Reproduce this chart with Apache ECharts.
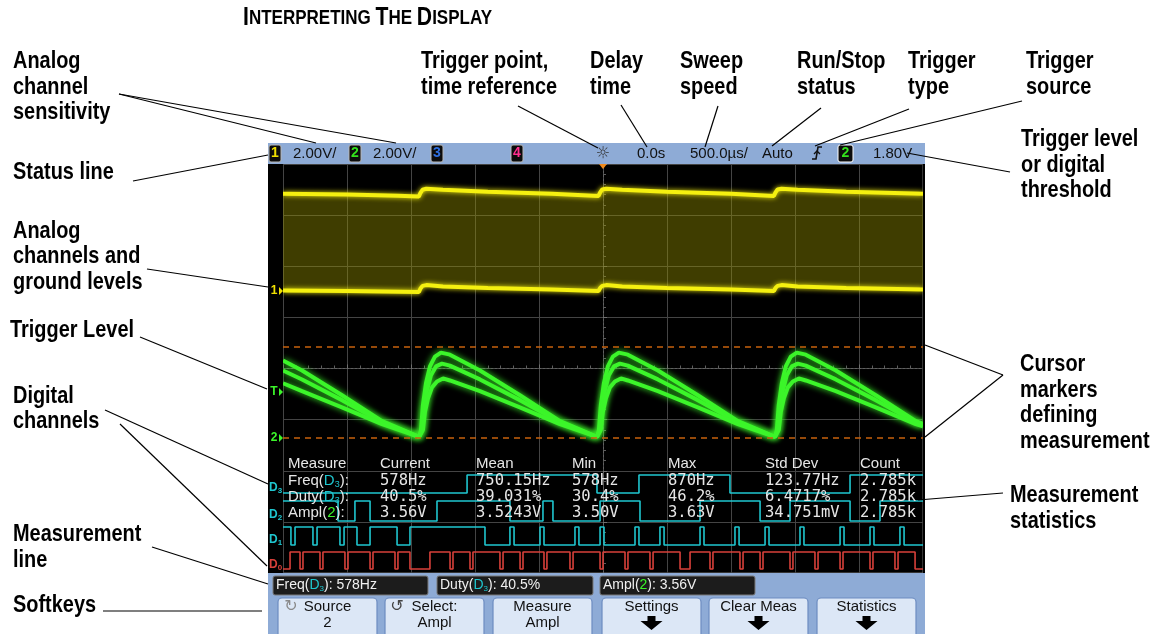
<!DOCTYPE html>
<html><head><meta charset="utf-8">
<script src="https://cdn.jsdelivr.net/npm/echarts/dist/echarts.min.js"></script>
<style>html,body{margin:0;padding:0;background:#fff}#c{width:1158px;height:634px}</style>
</head><body><div id="c"></div>
<script>
// ---------------- DATA (time in µs relative to trigger, volts) ----------------
const VOLTS_PER_DIV = 2;          // 2.00V/div on both analog channels
const ch1Ground = 1.516;          // ch1 ground offset (divisions from centre)
const ch2Ground = -1.359;         // ch2 ground offset (divisions from centre)
const triggerLevel = 1.80;        // V on channel 2
const cursorLevels = [0.0, 3.56]; // ch2 base / top cursor markers (V)

// Channel 1: envelope of the fast signal (upper and lower edges)
const ch1High = [[-2500,3.80],[-2000,3.77],[-1600,3.73],[-1438,3.70],[-1426,3.84],[-1410,3.96],[-1380,4.00],[-1250,3.96],[-900,3.88],[-400,3.80],[-35,3.72],[-22,3.86],[-6,3.97],[25,4.00],[150,3.96],[500,3.88],[1000,3.80],[1335,3.72],[1348,3.86],[1364,3.97],[1395,4.00],[1520,3.96],[1900,3.88],[2500,3.80]];
const ch1Low = [[-2500,0.02],[-2000,0.00],[-1438,-0.04],[-1426,0.10],[-1410,0.20],[-1380,0.23],[-1250,0.18],[-900,0.12],[-400,0.06],[-35,0.00],[-22,0.12],[-6,0.20],[25,0.23],[150,0.18],[500,0.12],[1000,0.06],[1335,0.00],[1348,0.12],[1364,0.20],[1395,0.23],[1520,0.18],[1900,0.12],[2500,0.06]];

// Channel 2: three overlaid sawtooth acquisitions
const ch2TraceA = [[-2500,3.03],[-2351,2.64],[-2039,1.67],[-1726,0.66],[-1437,0.04],[-1422,0.31],[-1407,1.28],[-1383,2.14],[-1352,2.80],[-1313,3.18],[-1266,3.34],[-1196,3.26],[-961,2.64],[-649,1.67],[-336,0.66],[-47,0.04],[-32,0.31],[-17,1.28],[7,2.14],[38,2.80],[77,3.18],[124,3.34],[194,3.26],[429,2.64],[741,1.67],[1054,0.66],[1343,0.04],[1358,0.31],[1373,1.28],[1397,2.14],[1428,2.80],[1467,3.18],[1514,3.34],[1584,3.26],[1819,2.64],[2131,1.67],[2444,0.66],[2500,0.55]];
const ch2TraceB = [[-2500,2.64],[-2351,2.29],[-2039,1.48],[-1726,0.62],[-1437,0.04],[-1414,0.31],[-1399,1.09],[-1375,1.86],[-1344,2.45],[-1305,2.80],[-1258,2.91],[-1196,2.83],[-961,2.29],[-649,1.48],[-336,0.62],[-47,0.04],[-24,0.31],[-9,1.09],[15,1.86],[46,2.45],[85,2.80],[132,2.91],[194,2.83],[429,2.29],[741,1.48],[1054,0.62],[1343,0.04],[1366,0.31],[1381,1.09],[1405,1.86],[1436,2.45],[1475,2.80],[1522,2.91],[1584,2.83],[1819,2.29],[2131,1.48],[2444,0.62],[2500,0.52]];
const ch2TraceC = [[-2500,2.14],[-2351,1.83],[-2039,1.20],[-1726,0.54],[-1437,0.04],[-1407,0.31],[-1391,1.01],[-1367,1.55],[-1336,1.98],[-1297,2.21],[-1250,2.33],[-1196,2.25],[-961,1.83],[-649,1.20],[-336,0.54],[-47,0.04],[-17,0.31],[-1,1.01],[23,1.55],[54,1.98],[93,2.21],[140,2.33],[194,2.25],[429,1.83],[741,1.20],[1054,0.54],[1343,0.04],[1373,0.31],[1389,1.01],[1413,1.55],[1444,1.98],[1483,2.21],[1530,2.33],[1584,2.25],[1819,1.83],[2131,1.20],[2444,0.54],[2500,0.46]];

// Digital channels: initial level and transition times (µs)
const d3Start = 0, d3Edges = [-1062,-47,281,992,1930];
const d2Start = 1, d2Edges = [-2070,-1938,-1820,-1297,-727,-469,-391,-23,289,758,1227,1461,1930,2164];
const d1Start = 1, d1Edges = [-2438,-2406,-2266,-2234,-2055,-2023,-1922,-1820,-1609,-1508,-922,-727,-695,-492,-461,-219,-188,-23,8,250,281,445,477,758,789,1031,1063,1266,1297,1539,1570,1852,1883,2086,2117,2320,2352];
const d0Start = 0, d0Edges = [-2445,-2367,-2344,-2211,-2188,-2016,-1992,-1820,-1797,-1625,-1602,-1508,-1352,-1195,-1172,-1039,-1016,-805,-781,-648,-625,-461,-438,-258,-234,-23,0,172,195,367,391,602,680,836,859,1070,1094,1227,1250,1461,1484,1656,1680,1852,1875,2086,2109,2281,2305,2438];
// display rows of the digital channels (divisions): [low, high]
const d3Row = [-2.435,-2.083], d2Row = [-2.983,-2.592], d1Row = [-3.452,-3.100], d0Row = [-3.922,-3.589];

// Status line
const statusScale = ['2.00V/','2.00V/'];
const delayText = '0.0s', sweepText = '500.0µs/', runText = 'Auto', trigLevelText = '1.80V';

// Measurement statistics table
const measHeaders = ['Measure','Current','Mean','Min','Max','Std Dev','Count'];
const measNames = ['Freq','Duty','Ampl'];
const measSources = ['D3','D3','2'];
const measCurrent = ['578Hz','40.5%','3.56V'];
const measMean = ['750.15Hz','39.031%','3.5243V'];
const measMin = ['578Hz','30.4%','3.50V'];
const measMax = ['870Hz','46.2%','3.63V'];
const measStd = ['123.77Hz','6.4717%','34.751mV'];
const measCount = ['2.785k','2.785k','2.785k'];

// Softkeys
const softkeys = ['Source\n2','Select:\nAmpl','Measure\nAmpl','Settings','Clear Meas','Statistics'];

// Callout labels
const callouts = [
 {x:13, y:49, t:'Analog\nchannel\nsensitivity'},
 {x:13, y:159.5, t:'Status line'},
 {x:13, y:218.5, t:'Analog\nchannels and\nground levels'},
 {x:10, y:317.5, t:'Trigger Level'},
 {x:13, y:383.5, t:'Digital\nchannels'},
 {x:13, y:522, t:'Measurement\nline'},
 {x:13, y:592.5, t:'Softkeys'},
 {x:421, y:49, t:'Trigger point,\ntime reference'},
 {x:590, y:49, t:'Delay\ntime'},
 {x:680, y:49, t:'Sweep\nspeed'},
 {x:797, y:49, t:'Run/Stop\nstatus'},
 {x:908, y:49, t:'Trigger\ntype'},
 {x:1026, y:49, t:'Trigger\nsource'},
 {x:1021, y:127, t:'Trigger level\nor digital\nthreshold'},
 {x:1020, y:352, t:'Cursor\nmarkers\ndefining\nmeasurement'},
 {x:1010, y:483, t:'Measurement\nstatistics'}
];
const leaderLines = [
 [119,94,316,143],[119,94,396,143],[133,181,268,155],[147,269,268,287],[140,337,267,389],
 [105,410,268,484],[120,424,267,566],[152,547,268,584],[103,611,262,611],
 [518,106,598,148],[621,105,647,147],[718,106,705,147],[821,108,772,146],[909,109,815,146],[1022,101,840,145],
 [907,153,1010,172],[1003,375,925,345],[1003,375,925,437],[1003,493,918,500]
];

// ---------------- BUILD ----------------
const FONT = "'Liberation Sans',sans-serif";
const NARROW = 0.83;  // horizontal squeeze to mimic a condensed bold face
const SCOPE_FONT = "'Liberation Sans',sans-serif";
const MONO = "'DejaVu Sans Mono',monospace";
const GRID = {left:283, top:164, width:640, height:409};

const toDiv = (arr, off) => arr.map(p => [p[0], p[1] / VOLTS_PER_DIV + off]);
function digital(start, edges, row){
  let lvl = start; const out = [[-2500, row[lvl]]];
  edges.forEach(t => { out.push([t, row[lvl]]); lvl = 1 - lvl; out.push([t, row[lvl]]); });
  out.push([2500, row[lvl]]);
  return out;
}
const lineSeries = (data, color, width, glow, extra) => Object.assign({
  type:'line', data, showSymbol:false, symbol:'none', silent:true, animation:false,
  lineStyle:{color, width, shadowBlur:glow, shadowColor:color}
}, extra || {});

const chart = echarts.init(document.getElementById('c'));
const GREEN = '#3cf52a', YELLOW = '#f5f010', CYAN = '#1fc6cf', RED = '#d8403a';

chart.setOption({
  backgroundColor:'#ffffff',
  animation:false,
  grid:{left:GRID.left, top:GRID.top, width:GRID.width, height:GRID.height, show:true, backgroundColor:'#000', borderColor:'#6a6a6a', borderWidth:1},
  xAxis:{type:'value', min:-2500, max:2500, interval:500,
    axisLabel:{show:false},
    axisLine:{show:true, onZero:true, lineStyle:{color:'#606060', type:[2,2]}},
    axisTick:{show:true, inside:true, length:4, lineStyle:{color:'#707070'}},
    minorTick:{show:true, splitNumber:5, length:3, lineStyle:{color:'#5e5e5e'}},
    splitLine:{show:true, lineStyle:{color:'#444444', width:1}}},
  yAxis:{type:'value', min:-4, max:4, interval:1,
    axisLabel:{show:false},
    axisLine:{show:true, onZero:true, lineStyle:{color:'#606060', type:[2,2]}},
    axisTick:{show:true, inside:true, length:4, lineStyle:{color:'#707070'}},
    minorTick:{show:true, splitNumber:5, length:3, lineStyle:{color:'#5e5e5e'}},
    splitLine:{show:true, lineStyle:{color:'#444444', width:1}}},
  series:[
    {type:'custom', data:[[0,0]], silent:true, animation:false, clip:true, z:1,
     renderItem:(params, api) => {
       const pts = [];
       ch1High.forEach(p => pts.push(api.coord([p[0], p[1]/VOLTS_PER_DIV + ch1Ground])));
       for (let i = ch1Low.length - 1; i >= 0; i--) pts.push(api.coord([ch1Low[i][0], ch1Low[i][1]/VOLTS_PER_DIV + ch1Ground]));
       return {type:'polygon', shape:{points:pts}, style:{fill:'rgba(150,145,0,0.42)'}};
     }},
    lineSeries(toDiv(ch1High, ch1Ground), YELLOW, 4, 5),
    lineSeries(toDiv(ch1Low, ch1Ground), YELLOW, 4, 5),
    lineSeries(toDiv(ch2TraceA, ch2Ground), GREEN, 4, 6, {markLine:{silent:true, symbol:'none', label:{show:false}, animation:false,
      lineStyle:{color:'#c8620c', type:[6,5], width:1.5},
      data: cursorLevels.map(v => ({yAxis: v/VOLTS_PER_DIV + ch2Ground}))}}),
    lineSeries(toDiv(ch2TraceB, ch2Ground), GREEN, 4, 6),
    lineSeries(toDiv(ch2TraceC, ch2Ground), GREEN, 4, 6),
    lineSeries(digital(d3Start, d3Edges, d3Row), CYAN, 1.6, 0),
    lineSeries(digital(d2Start, d2Edges, d2Row), CYAN, 1.6, 0),
    lineSeries(digital(d1Start, d1Edges, d1Row), CYAN, 1.6, 0),
    lineSeries(digital(d0Start, d0Edges, d0Row), RED, 1.6, 0)
  ]
});

// ---------------- GRAPHIC OVERLAY ----------------
const g = [];
const txt = (x, y, text, o) => g.push(Object.assign({type:'text', x, y, z:100, silent:true,
  style:Object.assign({text, fill:'#000', fontFamily:SCOPE_FONT, fontSize:15, align:'left', verticalAlign:'middle'}, (o && o.style) || {})}, (o && o.el) || {}));
const rect = (x, y, w, h, fill, stroke, r, z, lw) => g.push({type:'rect', z: z || 50, silent:true, shape:{x, y, width:w, height:h, r: r || 0}, style:{fill, stroke: stroke || null, lineWidth: lw || 1}});

// title (small caps)
g.push({type:'text', x:243, y:18, z:100, silent:true, scaleX:NARROW, style:{text:'{b|I}{s|NTERPRETING }{b|T}{s|HE }{b|D}{s|ISPLAY}', verticalAlign:'middle', fill:'#000',
  rich:{b:{fontFamily:FONT, fontWeight:'bold', fontSize:25.5, fill:'#000'}, s:{fontFamily:FONT, fontWeight:'bold', fontSize:20.5, fill:'#000'}}}});

// callouts
callouts.forEach(c => g.push({type:'text', x:c.x, y:c.y, z:100, silent:true, scaleX:NARROW,
  style:{text:c.t, fontFamily:FONT, fontWeight:'bold', fontSize:24, lineHeight:25.5, fill:'#000', align:'left', verticalAlign:'top'}}));
leaderLines.forEach(l => g.push({type:'line', z:100, silent:true, shape:{x1:l[0], y1:l[1], x2:l[2], y2:l[3]}, style:{stroke:'#000', lineWidth:1.2}}));

// screen frame pieces
rect(268, 143, 657, 21, '#8eabd6');          // status bar
rect(268, 164, 15, 409, '#000');             // left marker column
rect(923, 164, 2, 409, '#000');
rect(268, 573, 657, 61, '#8eabd6');          // bottom panel

// status line boxes
const chBox = (x, w, digit, color, stroke) => {
  rect(x, 145, w, 17, '#0c0c0c', stroke || '#b8b8b8', 2, 60, 1);
  txt(x + w/2, 153.5, digit, {style:{fill:color, fontSize:14, fontWeight:'bold', align:'center'}});
};
chBox(269, 12, '1', '#f0e000');
txt(293, 153.5, statusScale[0], {style:{fill:'#111'}});
chBox(349, 12, '2', '#33e01c');
txt(373, 153.5, statusScale[1], {style:{fill:'#111'}});
chBox(431, 12, '3', '#2f6fe0');
chBox(511, 12, '4', '#ff2f8e');
txt(603, 153.5, '☼', {style:{fill:'#333', fontSize:16, align:'center', fontFamily:"'DejaVu Sans',sans-serif"}});
txt(637, 153.5, delayText, {style:{fill:'#111'}});
txt(690, 153.5, sweepText, {style:{fill:'#111'}});
txt(762, 153.5, runText, {style:{fill:'#111'}});
g.push({type:'polyline', z:100, silent:true, shape:{points:[[812,159],[816,159],[818,147],[822,147]]}, style:{stroke:'#111', lineWidth:1.6, fill:null}});
g.push({type:'polyline', z:100, silent:true, shape:{points:[[814,154],[817,151],[820,154]]}, style:{stroke:'#111', lineWidth:1.4, fill:null}});
chBox(838, 15, '2', '#33e01c', '#ffffff');
txt(873, 153.5, trigLevelText, {style:{fill:'#111'}});
// trigger position marker
g.push({type:'polygon', z:100, silent:true, shape:{points:[[599,164],[607,164],[603,169]]}, style:{fill:'#f08a1c'}});

// measurement statistics table
const colX = [288, 380, 476, 572, 668, 765, 860];
const rowY = [464, 481, 497, 513];
measHeaders.forEach((h, i) => txt(colX[i], rowY[0], h, {style:{fill:'#e6e6e6', fontSize:15}}));
const srcRich = {d:{fill:CYAN, fontSize:15, fontFamily:SCOPE_FONT}, sub:{fill:CYAN, fontSize:9, fontFamily:SCOPE_FONT, padding:[8,0,0,0]}, gr:{fill:'#3cf52a', fontSize:15, fontFamily:SCOPE_FONT}, w:{fill:'#e6e6e6', fontSize:15, fontFamily:SCOPE_FONT}};
const srcLabel = (name, src) => src.startsWith('D') ? `{w|${name}(}{d|D}{sub|${src.slice(1)}}{w|):}` : `{w|${name}(}{gr|${src}}{w|):}`;
const cols = [measCurrent, measMean, measMin, measMax, measStd, measCount];
measNames.forEach((n, r) => {
  g.push({type:'text', x:colX[0], y:rowY[r+1], z:100, silent:true, style:{text:srcLabel(n, measSources[r]), verticalAlign:'middle', rich:srcRich}});
  cols.forEach((c, ci) => txt(colX[ci+1], rowY[r+1], c[r], {style:{fill:'#e6e6e6', fontSize:15.5, fontFamily:MONO}}));
});

// measurement line boxes
const mBoxes = [[273,155],[437,156],[600,155]];
const mVals = [measCurrent[0], measCurrent[1], measCurrent[2]];
mBoxes.forEach((b, i) => {
  rect(b[0], 576, b[1], 19, '#1c1c1c', '#7a7a7a', 2, 60, 1);
  const rich = {d:{fill:CYAN, fontSize:14, fontFamily:SCOPE_FONT}, sub:{fill:CYAN, fontSize:8, fontFamily:SCOPE_FONT, padding:[7,0,0,0]}, gr:{fill:'#3cf52a', fontSize:14, fontFamily:SCOPE_FONT}, w:{fill:'#f0f0f0', fontSize:14, fontFamily:SCOPE_FONT}};
  const lab = srcLabel(measNames[i], measSources[i]) + `{w| ${mVals[i]}}`;
  g.push({type:'text', x:b[0]+3, y:585.5, z:100, silent:true, style:{text:lab, verticalAlign:'middle', rich}});
});

// softkeys
const keyX = [278, 385, 493, 602, 709, 817];
softkeys.forEach((k, i) => {
  rect(keyX[i], 598, 99, 40, '#dce7f6', '#6d8cc0', 4, 60, 1.2);
  const cx = keyX[i] + 49.5;
  const lines = k.split('\n');
  txt(cx, 607, lines[0], {style:{fill:'#111', fontSize:15, align:'center'}});
  if (lines[1]) txt(cx, 623, lines[1], {style:{fill:'#111', fontSize:15, align:'center'}});
  else g.push({type:'polygon', z:100, silent:true, shape:{points:[[cx-4,616],[cx+4,616],[cx+4,621],[cx+11,621],[cx,630],[cx-11,621],[cx-4,621]]}, style:{fill:'#000'}});
});
txt(291, 607, '↻', {style:{fill:'#8a8a8a', fontSize:16, align:'center', fontFamily:"'DejaVu Sans',sans-serif"}});
txt(397, 607, '↺', {style:{fill:'#444', fontSize:16, align:'center', fontFamily:"'DejaVu Sans',sans-serif"}});

// channel markers in the left column, positioned through the chart's scales
const px = (t, d) => chart.convertToPixel({gridIndex:0}, [t, d]);
const marker = (yDiv, label, color) => {
  const p = px(-2500, yDiv);
  txt(274, p[1], label, {style:{fill:color, fontSize:12, fontWeight:'bold', align:'center'}});
  g.push({type:'polygon', z:100, silent:true, shape:{points:[[279,p[1]-4],[283,p[1]],[279,p[1]+4]]}, style:{fill:color}});
};
marker(ch1Ground, '1', '#f0e000');
marker(triggerLevel/VOLTS_PER_DIV + ch2Ground, 'T', '#3cf52a');
marker(ch2Ground, '2', '#3cf52a');
const dMarker = (row, n, color) => {
  const p = px(-2500, (row[0] + row[1]) / 2);
  g.push({type:'text', x:269, y:p[1]+4, z:100, silent:true, style:{text:`{d|D}{s|${n}}`, verticalAlign:'middle',
    rich:{d:{fill:color, fontSize:12, fontWeight:'bold', fontFamily:SCOPE_FONT}, s:{fill:color, fontSize:8, fontWeight:'bold', fontFamily:SCOPE_FONT, padding:[6,0,0,0]}}}});
};
dMarker(d3Row, 3, CYAN); dMarker(d2Row, 2, CYAN); dMarker(d1Row, 1, CYAN); dMarker(d0Row, 0, RED);

chart.setOption({graphic:{elements:g}});
</script>
</body></html>
